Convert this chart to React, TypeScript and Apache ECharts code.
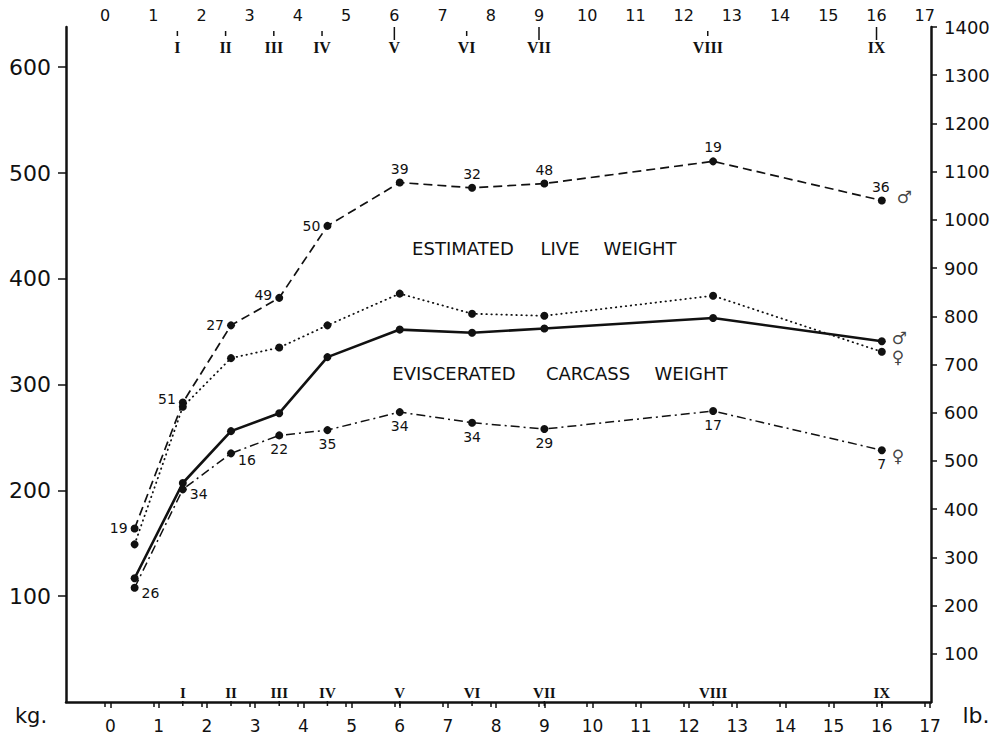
import React, { useEffect, useRef } from "react";
import * as echarts from "echarts";

// ---- data ----
const ages = [0.5, 1.5, 2.5, 3.5, 4.5, 6, 7.5, 9, 12.5, 16];
const liveMale = [164, 283, 356, 382, 450, 491, 486, 490, 511, 474];
const liveFemale = [149, 279, 325, 335, 356, 386, 367, 365, 384, 331];
const carcassMale = [117, 207, 256, 273, 326, 352, 349, 353, 363, 341];
const carcassFemale = [108, 201, 235, 252, 257, 274, 264, 258, 275, 238];
const liveMaleN = [19, 51, 27, 49, 50, 39, 32, 48, 19, 36];
const carcassFemaleN = [26, 34, 16, 22, 35, 34, 34, 29, 17, 7];
const ageTicks = [0, 1, 2, 3, 4, 5, 6, 7, 8, 9, 10, 11, 12, 13, 14, 15, 16, 17];
const classAges = [1.5, 2.5, 3.5, 4.5, 6, 7.5, 9, 12.5, 16];
const classNames = ["I", "II", "III", "IV", "V", "VI", "VII", "VIII", "IX"];
const longClassTicks = ["V", "VII", "IX"];
const kgTicks = [100, 200, 300, 400, 500, 600];
const lbTicks = [100, 200, 300, 400, 500, 600, 700, 800, 900, 1000, 1100, 1200, 1300, 1400];

const INK = "#111";
const SANS = '"DejaVu Sans", sans-serif';
const SERIF = '"Liberation Serif", "DejaVu Serif", serif';

function pairs(vals: number[]) {
  return ages.map((a, i) => [a, vals[i]]);
}

export default function App() {
  const ref = useRef<HTMLDivElement>(null);

  useEffect(() => {
    document.body.style.margin = "0";
    if (!ref.current) return;
    const chart = echarts.init(ref.current, undefined, { renderer: "svg" });

    const labelBase = { show: true, color: INK, fontFamily: SANS, fontSize: 14 };

    const liveMaleData = ages.map((a, i) => {
      let label: any = { position: "top", distance: 3 };
      if (i < 5) {
        label = { position: "left", distance: 3 };
        if (i === 1) label.offset = [0, -4];
        if (i === 3) label.offset = [0, -3];
      }
      if (i === ages.length - 1) label.offset = [-1, 0];
      return { value: [a, liveMale[i]], label: { ...labelBase, ...label, formatter: String(liveMaleN[i]) } };
    });
    const carcassFemaleData = ages.map((a, i) => {
      let label: any = { position: "bottom", distance: 3 };
      if (i < 3) label = { position: "right", distance: 3, offset: [0, i === 2 ? 7 : 5] };
      return { value: [a, carcassFemale[i]], label: { ...labelBase, ...label, formatter: String(carcassFemaleN[i]) } };
    });

    const last = ages.length - 1;
    const sexData = [
      { value: [ages[last], liveMale[last]], label: { formatter: "\u2642", offset: [14, -4] } },
      { value: [ages[last], carcassMale[last]], label: { formatter: "\u2642", offset: [9, -3] } },
      { value: [ages[last], liveFemale[last]], label: { formatter: "\u2640", offset: [9, 5] } },
      { value: [ages[last], carcassFemale[last]], label: { formatter: "\u2640", offset: [9, 6] } },
    ];

    const lineCommon = {
      type: "line",
      symbol: "circle",
      symbolSize: 8,
      itemStyle: { color: INK },
      xAxisIndex: 0,
      yAxisIndex: 0,
      z: 3,
    };

    const option: any = {
      animation: false,
      backgroundColor: "#fff",
      grid: { left: 66, right: 77, top: 27, bottom: 28, containLabel: false },
      xAxis: [
        {
          type: "value",
          position: "bottom",
          min: -0.923,
          max: 17.02,
          axisLine: { show: true, onZero: false, lineStyle: { color: INK, width: 2.5 } },
          axisTick: { show: true, customValues: ageTicks, length: 6, lineStyle: { color: INK, width: 1.5 } },
          axisLabel: { customValues: ageTicks, color: INK, fontFamily: SANS, fontSize: 17, margin: 15, formatter: (v: number) => String(v) },
          splitLine: { show: false },
        },
        {
          type: "value",
          position: "top",
          min: -0.81,
          max: 17.13,
          axisLine: { show: false },
          axisTick: { show: true, inside: true, customValues: ageTicks, length: 5, lineStyle: { color: INK, width: 1.5 } },
          axisLabel: { customValues: ageTicks, color: INK, fontFamily: SANS, fontSize: 16, margin: 4, formatter: (v: number) => String(v) },
          splitLine: { show: false },
        },
      ],
      yAxis: [
        {
          type: "value",
          position: "left",
          min: 0,
          max: 638,
          axisLine: { show: true, onZero: false, lineStyle: { color: INK, width: 2.5 } },
          axisTick: { show: true, customValues: kgTicks, length: 8, lineStyle: { color: INK, width: 1.5 } },
          axisLabel: { customValues: kgTicks, color: INK, fontFamily: SANS, fontSize: 22, margin: 15, formatter: (v: number) => String(v) },
          splitLine: { show: false },
        },
        {
          type: "value",
          position: "right",
          min: 0,
          max: 1400,
          axisLine: { show: true, onZero: false, lineStyle: { color: INK, width: 2.5 } },
          axisTick: { show: true, customValues: lbTicks, length: 6, lineStyle: { color: INK, width: 1.5 } },
          axisLabel: { customValues: lbTicks, color: INK, fontFamily: SANS, fontSize: 18, margin: 13, formatter: (v: number) => String(v) },
          splitLine: { show: false },
        },
      ],
      series: [
        {
          ...lineCommon,
          name: "Estimated live weight, males",
          data: liveMaleData,
          lineStyle: { color: INK, width: 1.7, type: [9, 5] },
        },
        {
          ...lineCommon,
          name: "Estimated live weight, females",
          data: pairs(liveFemale),
          lineStyle: { color: INK, width: 1.8, type: [0.5, 4.5], cap: "round" },
        },
        {
          ...lineCommon,
          name: "Eviscerated carcass weight, males",
          data: pairs(carcassMale),
          lineStyle: { color: INK, width: 2.6, type: "solid" },
        },
        {
          ...lineCommon,
          name: "Eviscerated carcass weight, females",
          data: carcassFemaleData,
          lineStyle: { color: INK, width: 1.5, type: [9, 4, 2, 4] },
        },
        {
          type: "scatter",
          name: "sex",
          symbol: "circle",
          symbolSize: 2,
          itemStyle: { color: "rgba(0,0,0,0)" },
          xAxisIndex: 0,
          yAxisIndex: 0,
          label: { show: true, position: "right", distance: 0, color: INK, fontFamily: SANS, fontSize: 17 },
          data: sexData,
          z: 4,
        },
      ],
    };

    chart.setOption(option);

    const gx = (v: number, idx: number) => chart.convertToPixel({ xAxisIndex: idx }, v) as number;
    const graphics: any[] = [];
    const textEl = (text: string, x: number, y: number, font: string) => ({
      type: "text",
      x,
      y,
      silent: true,
      style: {
        text,
        fill: INK,
        font,
        align: "center",
        verticalAlign: "middle",
        textAlign: "center",
        textVerticalAlign: "middle",
      },
    });

    classAges.forEach((a, i) => {
      const name = classNames[i];
      const xt = gx(a, 1);
      const long = longClassTicks.indexOf(name) >= 0;
      graphics.push({
        type: "line",
        silent: true,
        shape: { x1: xt, y1: long ? 27 : 31, x2: xt, y2: long ? 40 : 36 },
        style: { stroke: INK, lineWidth: 1.5 },
      });
      graphics.push(textEl(name, xt, 47, `bold 16px ${SERIF}`));
      const xb = gx(a, 0);
      graphics.push({
        type: "line",
        silent: true,
        shape: { x1: xb, y1: 701, x2: xb, y2: 706 },
        style: { stroke: INK, lineWidth: 1.5 },
      });
      graphics.push(textEl(name, xb, 693, `bold 15px ${SERIF}`));
    });

    const words = [
      ["ESTIMATED", 463, 248],
      ["LIVE", 560, 248],
      ["WEIGHT", 640, 248],
      ["EVISCERATED", 454, 373],
      ["CARCASS", 588, 373],
      ["WEIGHT", 691, 373],
    ] as [string, number, number][];
    words.forEach(([t, x, y]) => graphics.push(textEl(t, x, y, `18px ${SANS}`)));

    graphics.push(textEl("kg.", 31, 716, `21px ${SANS}`));
    graphics.push(textEl("lb.", 976, 715, `22px ${SANS}`));

    chart.setOption({ graphic: graphics });

    return () => chart.dispose();
  }, []);

  return <div ref={ref} style={{ width: 1008, height: 734 }} />;
}
